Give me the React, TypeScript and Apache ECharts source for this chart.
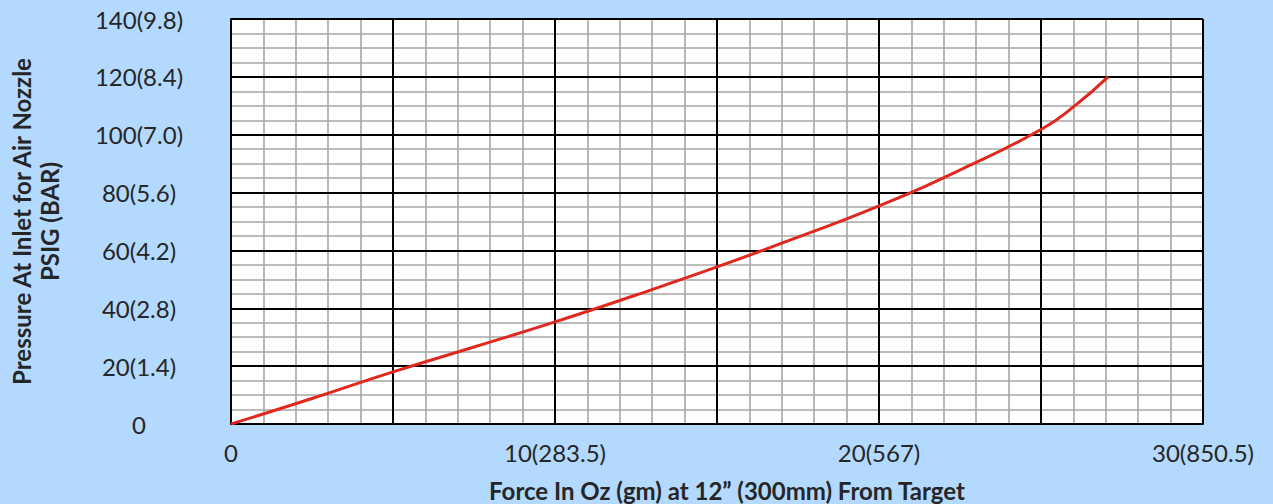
import React, { useEffect, useRef } from "react";
import * as echarts from "echarts";

const forceOz = [0, 2.5, 5, 7.5, 10, 12.5, 15, 17.5, 20, 22.5, 25, 26, 27.07];
const pressurePsig = [0, 8.8, 18, 26.6, 35.3, 44.6, 54.3, 64.6, 75.4, 87.8, 101.8, 109.6, 120];

const xTickValues = [0, 10, 20, 30];
const xTickLabels = ["0", "10(283.5)", "20(567)", "30(850.5)"];
const yTickValues = [0, 20, 40, 60, 80, 100, 120, 140];
const yTickLabels = ["0", "20(1.4)", "40(2.8)", "60(4.2)", "80(5.6)", "100(7.0)", "120(8.4)", "140(9.8)"];

const xTitle = "Force In Oz (gm) at 12\u201d (300mm) From Target";
const yTitle = "Pressure At Inlet for Air Nozzle\nPSIG (BAR)";

const FONT = "Lato, 'Open Sans', sans-serif";

export default function App() {
  const ref = useRef<HTMLDivElement>(null);
  useEffect(() => {
    document.body.style.margin = "0";
    const chart = echarts.init(ref.current!, null, { renderer: "svg" });
    const data = forceOz.map((x, i) => [x, pressurePsig[i]]);
    const minorX = {
      type: "value", position: "bottom", offset: 0, min: 0, max: 30, interval: 1, z: 1,
      axisLine: { show: false }, axisTick: { show: false }, axisLabel: { show: false },
      splitLine: { show: true, lineStyle: { color: "#a6a6a6", width: 1.6 } },
    };
    const minorY = {
      type: "value", position: "left", offset: 0, min: 0, max: 140, interval: 5, z: 1,
      axisLine: { show: false }, axisTick: { show: false }, axisLabel: { show: false },
      splitLine: { show: true, lineStyle: { color: "#a6a6a6", width: 1.6 } },
    };
    chart.setOption({
      animation: false,
      backgroundColor: "#b3d9fe",
      textStyle: { fontFamily: FONT },
      grid: {
        left: 231, right: 70, top: 19, bottom: 80, outerBoundsMode: "none", containLabel: false,
        show: true, backgroundColor: "#ffffff", borderWidth: 0, z: 0,
      },
      xAxis: [
        minorX,
        {
          type: "value", position: "bottom", offset: 0, min: 0, max: 30, interval: 5, z: 2,
          axisLine: { show: true, lineStyle: { color: "#000", width: 2 } },
          axisTick: { show: false },
          splitLine: { show: true, lineStyle: { color: "#000", width: 2 } },
          axisLabel: {
            show: true, margin: 16, fontSize: 24, color: "#262626", fontFamily: FONT,
            formatter: (v: number) => {
              const i = xTickValues.indexOf(v);
              return i >= 0 ? xTickLabels[i] : "";
            },
          },
          name: xTitle, nameLocation: "middle", nameGap: 54,
          nameTextStyle: { fontSize: 24, fontWeight: "bold", color: "#262626", fontFamily: FONT, padding: [0, 0, 0, 20] },
        },
      ],
      yAxis: [
        minorY,
        {
          type: "value", position: "left", offset: 0, min: 0, max: 140, interval: 20, z: 2,
          axisLine: { show: true, lineStyle: { color: "#000", width: 2 } },
          axisTick: { show: false },
          splitLine: { show: true, lineStyle: { color: "#000", width: 2 } },
          axisLabel: {
            show: true, margin: 92, align: "center", fontSize: 24, color: "#262626", fontFamily: FONT,
            formatter: (v: number) => {
              const i = yTickValues.indexOf(v);
              return i >= 0 ? yTickLabels[i] : "";
            },
          },
          name: yTitle, nameLocation: "middle", nameGap: 168, nameRotate: 90,
          nameTextStyle: { fontSize: 24, fontWeight: "bold", color: "#262626", fontFamily: FONT, lineHeight: 28, align: "center" },
        },
      ],
      series: [
        {
          type: "line", xAxisIndex: 0, yAxisIndex: 0, data, smooth: 0.5, showSymbol: false, z: 5,
          lineStyle: { color: "#e0281e", width: 3 },
        },
      ],
    });
    return () => chart.dispose();
  }, []);
  return <div ref={ref} style={{ position: "absolute", left: 0, top: 0, width: 1273, height: 504 }} />;
}
